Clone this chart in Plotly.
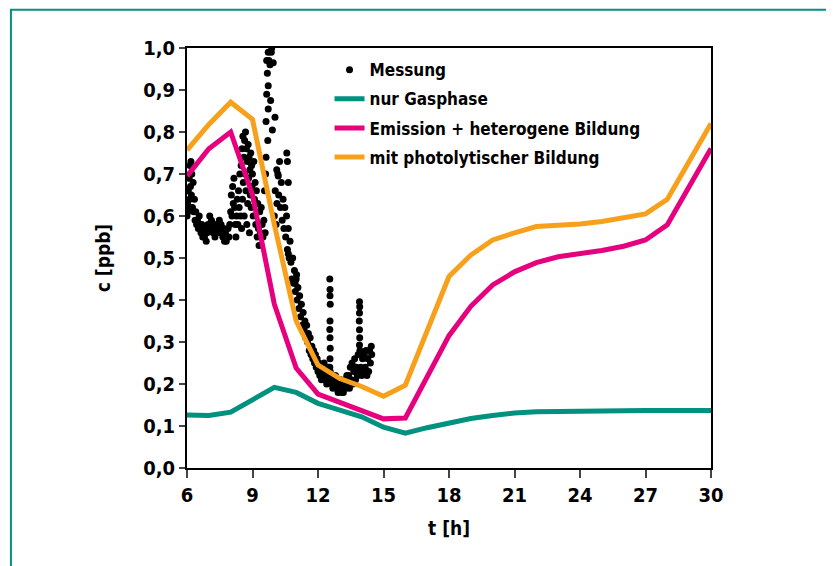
import plotly.graph_objects as go

# ---------------- data ----------------
model_t = [6, 7, 8, 9, 10, 11, 12, 13, 14, 15, 16, 17, 18, 19, 20, 21, 22, 23, 24, 25, 26, 27, 28, 29, 30]

gas_only = [0.126, 0.125, 0.133, 0.163, 0.192, 0.180, 0.154, 0.138, 0.122, 0.097, 0.083, 0.096, 0.108, 0.118, 0.125, 0.131, 0.134, 0.135, 0.136, 0.137, 0.137, 0.137, 0.137, 0.137, 0.137]

emission_het = [0.695, 0.760, 0.800, 0.650, 0.390, 0.238, 0.176, 0.156, 0.138, 0.117, 0.119, 0.215, 0.315, 0.385, 0.436, 0.467, 0.489, 0.503, 0.510, 0.518, 0.528, 0.543, 0.579, 0.670, 0.761]

photolytic = [0.757, 0.818, 0.871, 0.830, 0.580, 0.350, 0.245, 0.213, 0.194, 0.171, 0.197, 0.330, 0.456, 0.507, 0.543, 0.560, 0.575, 0.578, 0.581, 0.587, 0.595, 0.605, 0.640, 0.730, 0.820]

meas_t = [
    6.00, 6.02, 6.04, 6.06, 6.08, 6.10, 6.12, 6.14, 6.16, 6.18, 6.20, 6.22, 6.25, 6.28, 6.31, 6.34, 6.37, 6.40, 6.44,
    6.48, 6.52, 6.56, 6.60, 6.64, 6.68, 6.72, 6.76, 6.80, 6.84, 6.88, 6.92, 6.96, 7.00, 7.04, 7.08, 7.12, 7.16, 7.20,
    7.24, 7.28, 7.32, 7.36, 7.40, 7.44, 7.48, 7.52, 7.56, 7.60, 7.64, 7.68, 7.72, 7.76, 7.80, 7.84, 7.88, 7.92, 7.96,
    8.00, 8.03, 8.06, 8.09, 8.12, 8.15, 8.18, 8.21, 8.24, 8.27, 8.30, 8.33, 8.36, 8.39, 8.42, 8.45,
    8.48, 8.50, 8.52, 8.54, 8.56, 8.58, 8.60, 8.62, 8.64, 8.66, 8.68, 8.70, 8.72, 8.74, 8.76, 8.78, 8.80, 8.82, 8.84,
    8.86, 8.88, 8.90, 8.92, 8.94, 8.96, 8.98, 9.00, 9.03, 9.06, 9.09, 9.12, 9.15, 9.18, 9.21, 9.24, 9.27, 9.30, 9.33,
    9.36, 9.40, 9.44,
    9.48, 9.52, 9.55, 9.58, 9.60, 9.62, 9.62, 9.65, 9.65, 9.68, 9.70, 9.72, 9.72, 9.72, 9.75, 9.80, 9.83, 9.86, 9.88,
    9.91, 9.95, 10.03, 10.11, 10.18,
    10.00, 10.04, 10.08, 10.12, 10.16, 10.20, 10.24, 10.28, 10.32, 10.36, 10.40, 10.44, 10.48, 10.52, 10.56, 10.60,
    10.64, 10.68, 10.72, 10.57, 10.60, 10.64,
    10.76, 10.80, 10.84, 10.88, 10.92, 10.96, 11.00, 11.04, 11.08, 11.12, 11.16, 11.20, 11.24, 11.28, 11.32, 11.36,
    11.40, 11.44, 11.48, 11.52, 11.56, 11.60, 11.64, 11.68, 11.72, 11.76, 11.80, 11.84, 11.88, 11.92, 11.96,
    10.64, 10.95, 11.02,
    12.00, 12.04, 12.08, 12.12, 12.16, 12.20, 12.24, 12.28, 12.32, 12.36, 12.40, 12.44, 12.48, 12.52, 12.56, 12.60,
    12.64, 12.68, 12.72, 12.76, 12.80, 12.84, 12.88, 12.92, 12.96, 13.00, 13.04, 13.08, 13.12, 13.16, 13.20, 13.24,
    13.28, 13.32, 13.36,
    12.54, 12.55, 12.55, 12.56, 12.55, 12.54, 12.55, 12.56, 12.55, 12.54,
    13.40, 13.44, 13.48, 13.52, 13.56, 13.60, 13.64, 13.68, 13.72, 13.76, 13.80, 13.84, 13.88, 13.92, 13.96, 14.00,
    14.04, 14.08, 14.12, 14.16, 14.20, 14.24, 14.28, 14.32, 14.36, 14.40, 14.44, 14.46,
    13.90, 13.91, 13.90, 13.89, 13.90, 13.91, 13.90,
]

meas_c = [
    0.60, 0.63, 0.61, 0.66, 0.62, 0.69, 0.64, 0.72, 0.67, 0.73, 0.65, 0.70, 0.62, 0.68, 0.61, 0.64, 0.59, 0.61, 0.58,
    0.59, 0.57, 0.60, 0.58, 0.56, 0.58, 0.55, 0.57, 0.55, 0.56, 0.54, 0.56, 0.58, 0.57, 0.60, 0.58, 0.59, 0.57, 0.56,
    0.58, 0.55, 0.57, 0.56, 0.58, 0.57, 0.59, 0.56, 0.58, 0.57, 0.55, 0.57, 0.54, 0.56, 0.54, 0.55, 0.57, 0.55, 0.58,
    0.61, 0.65, 0.60, 0.67, 0.63, 0.69, 0.62, 0.58, 0.55, 0.60, 0.64, 0.58, 0.66, 0.62, 0.70, 0.60,
    0.72, 0.57, 0.76, 0.64, 0.79, 0.68, 0.74, 0.60, 0.78, 0.70, 0.80, 0.66, 0.76, 0.58, 0.73, 0.63, 0.77, 0.69, 0.74,
    0.56, 0.71, 0.65, 0.75, 0.62, 0.72, 0.67, 0.70, 0.60, 0.73, 0.64, 0.68, 0.58, 0.66, 0.55, 0.63, 0.57, 0.53, 0.61,
    0.56, 0.62, 0.58,
    0.55, 0.59, 0.66, 0.56, 0.70, 0.74, 0.825, 0.89, 0.97, 0.94, 0.78, 0.855, 0.91, 0.99, 0.97, 0.96, 0.875, 0.99, 1.00,
    0.805, 0.965, 0.835, 0.71, 0.695,
    0.60, 0.66, 0.58, 0.63, 0.70, 0.65, 0.73, 0.62, 0.68, 0.59, 0.64, 0.57, 0.62, 0.55, 0.60, 0.52,
    0.57, 0.50, 0.54, 0.75, 0.73, 0.68,
    0.49, 0.45, 0.50, 0.44, 0.47, 0.42, 0.45, 0.40, 0.43, 0.38, 0.41, 0.36, 0.39, 0.34, 0.37, 0.33,
    0.35, 0.31, 0.34, 0.30, 0.32, 0.28, 0.31, 0.27, 0.29, 0.26, 0.28, 0.25, 0.27, 0.24, 0.26,
    0.51, 0.44, 0.46,
    0.23, 0.25, 0.22, 0.24, 0.21, 0.23, 0.22, 0.25, 0.21, 0.23, 0.20, 0.22, 0.24, 0.21, 0.23, 0.20,
    0.22, 0.19, 0.21, 0.20, 0.22, 0.19, 0.21, 0.18, 0.20, 0.19, 0.21, 0.18, 0.20, 0.18, 0.19, 0.21,
    0.19, 0.22, 0.20,
    0.45, 0.425, 0.41, 0.39, 0.35, 0.33, 0.31, 0.285, 0.26, 0.24,
    0.22, 0.19, 0.24, 0.21, 0.25, 0.20, 0.23, 0.26, 0.21, 0.24, 0.22, 0.27, 0.23, 0.28, 0.24, 0.22,
    0.26, 0.23, 0.27, 0.24, 0.28, 0.22, 0.26, 0.23, 0.28, 0.25, 0.29, 0.27,
    0.396, 0.384, 0.369, 0.35, 0.329, 0.31, 0.293,
]

x_ticks = [6, 9, 12, 15, 18, 21, 24, 27, 30]
y_ticks = [0.0, 0.1, 0.2, 0.3, 0.4, 0.5, 0.6, 0.7, 0.8, 0.9, 1.0]

TEAL = "#00917f"
PINK = "#e6007e"
ORANGE = "#f7a01c"
FONT = "DejaVu Sans Condensed, DejaVu Sans, sans-serif"

fig = go.Figure()
fig.add_trace(go.Scatter(x=meas_t, y=meas_c, mode="markers", name="Messung",
                         marker=dict(color="black", size=7), legendgroup="a"))
fig.add_trace(go.Scatter(x=model_t, y=gas_only, mode="lines", name="nur Gasphase",
                         line=dict(color=TEAL, width=5), legendgroup="b"))
fig.add_trace(go.Scatter(x=model_t, y=emission_het, mode="lines", name="Emission + heterogene Bildung",
                         line=dict(color=PINK, width=5), legendgroup="c"))
fig.add_trace(go.Scatter(x=model_t, y=photolytic, mode="lines", name="mit photolytischer Bildung",
                         line=dict(color=ORANGE, width=5), legendgroup="d"))

title_font = dict(family=FONT, size=19, color="black", weight="bold")

fig.update_layout(
    width=826, height=558,
    margin=dict(l=179, r=123, t=40, b=98),
    paper_bgcolor="white", plot_bgcolor="white",
    separators=",.",
    font=dict(family=FONT, size=20, color="black", weight="bold"),
    legend=dict(x=0.272, xanchor="left", y=0.99, yanchor="top", bgcolor="rgba(0,0,0,0)",
                tracegroupgap=4, font=dict(family=FONT, size=17, color="black", weight="bold")),
    xaxis=dict(range=[6, 30], tickvals=x_ticks, ticks="outside", ticklen=8, tickwidth=2,
               showline=True, linewidth=2, linecolor="black", mirror=True, showgrid=False,
               zeroline=False, title=dict(text="t [h]", standoff=16, font=title_font)),
    yaxis=dict(range=[0, 1.0], tickvals=y_ticks, tickformat=".1f", ticks="outside", ticklen=6,
               tickwidth=2, showline=True, linewidth=2, linecolor="black", mirror=True,
               showgrid=False, zeroline=False, title=dict(text="c [ppb]", standoff=27, font=title_font)),
    shapes=[dict(type="rect", xref="paper", yref="paper", x0=-0.336, x1=1.227, y0=-0.3, y1=1.091,
                 line=dict(color=TEAL, width=2), layer="below")],
)

fig.write_html("out.html")
